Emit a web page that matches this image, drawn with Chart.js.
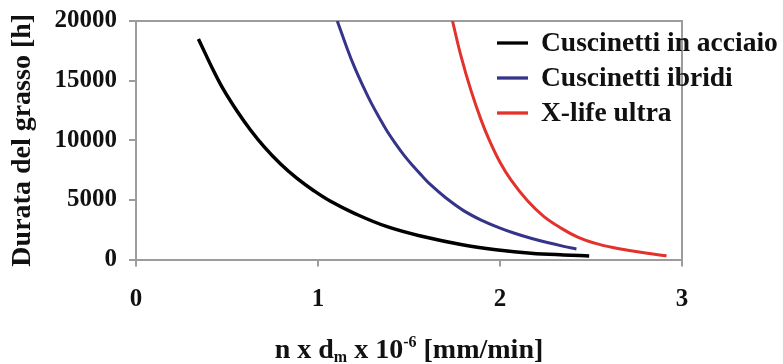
<!DOCTYPE html>
<html><head><meta charset="utf-8">
<script src="https://cdn.jsdelivr.net/npm/chart.js@4/dist/chart.umd.min.js"></script>
<style>html,body{margin:0;padding:0;background:#fff}#c{display:block}</style>
</head><body>
<canvas id="c" width="783" height="364"></canvas>
<script>
// ---- data ----
const seriesNames = ['Cuscinetti in acciaio', 'Cuscinetti ibridi', 'X-life ultra'];

const steelX = [0.343, 0.426, 0.481, 0.555, 0.628, 0.702, 0.793, 0.885, 0.977, 1.069, 1.20, 1.38, 1.57, 1.80, 1.99, 2.17, 2.35, 2.49];
const steelY = [18500, 15830, 14240, 12450, 10880, 9490, 8030, 6800, 5770, 4880, 3870, 2750, 1950, 1220, 800, 530, 380, 300];

const hybridX = [1.106, 1.16, 1.20, 1.25, 1.29, 1.34, 1.38, 1.42, 1.47, 1.52, 1.57, 1.62, 1.70, 1.80, 1.90, 1.99, 2.08, 2.17, 2.26, 2.35, 2.42];
const hybridY = [20000, 17700, 16150, 14450, 13200, 11800, 10750, 9850, 8800, 7880, 7040, 6250, 5200, 4100, 3280, 2700, 2200, 1780, 1420, 1100, 880];

const xlifeX = [1.739, 1.785, 1.84, 1.895, 1.94, 2.00, 2.06, 2.15, 2.24, 2.34, 2.43, 2.52, 2.62, 2.72, 2.81, 2.915];
const xlifeY = [20000, 17100, 14200, 11750, 10050, 8150, 6680, 4950, 3620, 2590, 1850, 1370, 1000, 730, 520, 310];

const xTickValues = [0, 1, 2, 3];
const yTickValues = [0, 5000, 10000, 15000, 20000];
const yTitle = 'Durata del grasso [h]';
const xTitleParts = [['n x d', ''], ['m', 'sub'], [' x 10', ''], ['-6', 'sup'], [' [mm/min]', '']];

const seriesColors = ['#000000', '#35348a', '#e3312b'];
const seriesWidths = [3.5, 3, 3];

// ---- build ----
const toPts = (xs, ys) => xs.map((x, i) => ({x: x, y: ys[i]}));
const seriesData = [toPts(steelX, steelY), toPts(hybridX, hybridY), toPts(xlifeX, xlifeY)];

const SERIF = '"Liberation Serif", "Times New Roman", serif';
const AXIS_GRAY = '#9c9c9c';

const frame = {
  id: 'frame',
  beforeDatasetsDraw(chart) {
    const {ctx, chartArea: a} = chart;
    ctx.save();
    ctx.strokeStyle = AXIS_GRAY;
    ctx.lineWidth = 2;
    ctx.beginPath();
    ctx.moveTo(a.left, a.top);
    ctx.lineTo(a.right, a.top);
    ctx.lineTo(a.right, a.bottom);
    ctx.stroke();
    ctx.restore();
  }
};

const legendBox = {
  id: 'legendBox',
  afterDraw(chart) {
    const {ctx, chartArea: a} = chart;
    ctx.save();
    ctx.font = 'bold 27.5px ' + SERIF;
    ctx.textBaseline = 'middle';
    ctx.textAlign = 'left';
    chart.data.datasets.forEach((ds, i) => {
      const y = a.top + 22 + i * 35;
      const x0 = a.right - 185;
      ctx.strokeStyle = ds.borderColor;
      ctx.lineWidth = 3.3;
      ctx.beginPath();
      ctx.moveTo(x0, y);
      ctx.lineTo(x0 + 31, y);
      ctx.stroke();
      ctx.fillStyle = '#111';
      ctx.fillText(ds.label, x0 + 44, y + 1);
    });
    ctx.restore();
  }
};

const xTitle = {
  id: 'xTitle',
  afterDraw(chart) {
    const {ctx, chartArea: a} = chart;
    ctx.save();
    ctx.fillStyle = '#111';
    ctx.textBaseline = 'alphabetic';
    ctx.textAlign = 'left';
    const big = 'bold 28px ' + SERIF, small = 'bold 16px ' + SERIF;
    let total = 0;
    xTitleParts.forEach(([t, k]) => { ctx.font = k ? small : big; total += ctx.measureText(t).width; });
    let x = (a.left + a.right) / 2 - total / 2;
    const base = 358;
    xTitleParts.forEach(([t, k]) => {
      ctx.font = k ? small : big;
      const dy = k === 'sub' ? 4 : (k === 'sup' ? -11 : 0);
      ctx.fillText(t, x, base + dy);
      x += ctx.measureText(t).width;
    });
    ctx.restore();
  }
};

new Chart(document.getElementById('c'), {
  type: 'line',
  data: {
    datasets: seriesNames.map((name, i) => ({
      label: name,
      data: seriesData[i],
      borderColor: seriesColors[i],
      backgroundColor: seriesColors[i],
      borderWidth: seriesWidths[i],
      pointRadius: 0,
      tension: 0.4,
      fill: false
    }))
  },
  options: {
    responsive: false,
    animation: false,
    devicePixelRatio: 1,
    layout: {padding: {top: 21, right: 101, left: 0, bottom: 0}},
    plugins: {legend: {display: false}, tooltip: {enabled: false}, title: {display: false}},
    scales: {
      x: {
        type: 'linear', min: 0, max: 3,
        afterBuildTicks: s => { s.ticks = xTickValues.map(v => ({value: v})); },
        ticks: {font: {family: SERIF, size: 25, weight: 'bold'}, color: '#111', padding: 18.5, maxRotation: 0},
        grid: {drawOnChartArea: false, drawTicks: true, tickLength: 7, color: AXIS_GRAY, lineWidth: 2},
        border: {display: true, color: AXIS_GRAY, width: 2},
        afterFit: s => { s.height = 104.5; s.paddingLeft = 0; s.paddingRight = 0; }
      },
      y: {
        type: 'linear', min: 0, max: 20000,
        afterBuildTicks: s => { s.ticks = yTickValues.map(v => ({value: v})); },
        ticks: {font: {family: SERIF, size: 25, weight: 'bold'}, color: '#111', padding: 12, callback: v => String(v)},
        grid: {drawOnChartArea: false, drawTicks: true, tickLength: 7, color: AXIS_GRAY, lineWidth: 2},
        border: {display: true, color: AXIS_GRAY, width: 2},
        title: {display: true, text: yTitle, font: {family: SERIF, size: 28, weight: 'bold'}, color: '#111', padding: {top: 5.6, bottom: 0}},
        afterFit: s => { s.width = 136; s.paddingTop = 0; s.paddingBottom = 0; }
      }
    }
  },
  plugins: [frame, legendBox, xTitle]
});
</script>
</body></html>
